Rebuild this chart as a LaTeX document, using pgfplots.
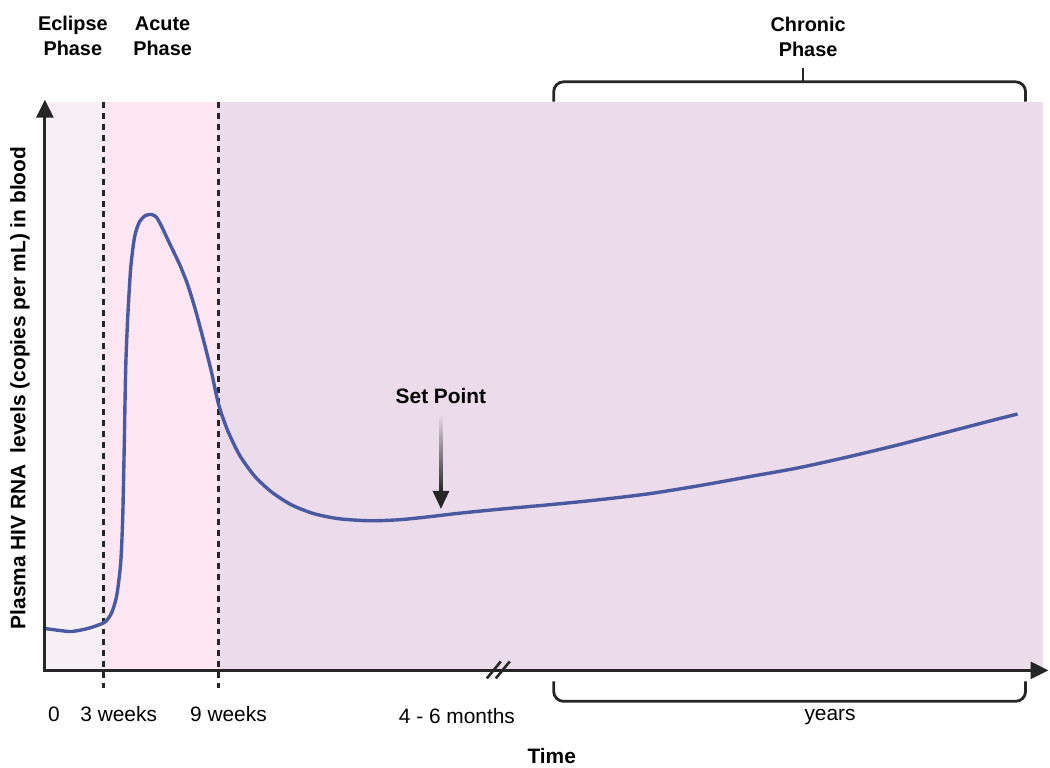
\documentclass[border=0pt]{standalone}
\usepackage{pgfplots}
\pgfplotsset{compat=1.18}
\usepackage{fontspec}
\setmainfont{Liberation Sans}
\usetikzlibrary{arrows.meta}
\definecolor{eclipse}{RGB}{246,240,245}
\definecolor{acute}{RGB}{251,230,242}
\definecolor{chronic}{RGB}{235,219,235}
\definecolor{curve}{RGB}{74,90,160}
\definecolor{ink}{RGB}{38,38,38}
\begin{document}
\begin{tikzpicture}
\begin{axis}[
  scale only axis, width=1000bp, height=570bp,
  xmin=45, xmax=1045, ymin=97, ymax=667,
  hide axis, clip=false,
]
\path (axis cs:0,0) rectangle (axis cs:1050,769);
% phase shading
\addplot[fill=eclipse, draw=none] coordinates {(45,97)(104,97)(104,667)(45,667)} -- cycle;
\addplot[fill=acute, draw=none] coordinates {(104,97)(219,97)(219,667)(104,667)} -- cycle;
\addplot[fill=chronic, draw=none] coordinates {(219,97)(1045,97)(1045,667)(219,667)} -- cycle;
% phase boundaries
\draw[ink, line width=3bp, dash pattern=on 6bp off 5bp] (axis cs:104,667) -- (axis cs:104,79);
\draw[ink, line width=3bp, dash pattern=on 6bp off 5bp] (axis cs:219,667) -- (axis cs:219,79);
% viral load curve
\addplot[curve, line width=3.4bp, smooth, tension=0.45, mark=none] coordinates {
(45,139)(60,137)(72,136)(88,139)(100,143)(106,146)(112,155)(117,172)(121,205)
(123,250)(124.5,320)(126,400)(128,450)(131,500)(135,532)(140,547)(146,553)
(152,554)(157,551)(162,542)(170,525)(180,504)(188,484)(196,458)(204,428)
(212,396)(219,364)(228,338)(240,313)(255,292)(272,276)(292,263)(315,254)
(340,249)(370,247)(400,248)(430,251)(460,254.5)(500,258.5)(550,263)(600,268)
(650,274)(700,282)(750,291)(800,300)(850,311)(900,323)(950,336)(1000,349)(1020,354)
};
% axes
\draw[ink, line width=3bp, -{Triangle[length=18bp,width=17bp]}] (axis cs:45,95.5) -- (axis cs:45,669);
\draw[ink, line width=3bp, -{Triangle[length=18bp,width=17bp]}] (axis cs:43.5,97) -- (axis cs:1051,97);
% axis break
\draw[ink, line width=2.6bp] (axis cs:488,89) -- (axis cs:502,106);
\draw[ink, line width=2.6bp] (axis cs:497,89) -- (axis cs:511,106);
% set point arrow
\shade[top color=chronic, bottom color=ink] (axis cs:440.2,354) rectangle (axis cs:443.8,276);
\fill[ink] (axis cs:433.5,277) -- (axis cs:450.5,277) -- (axis cs:442,259) -- cycle;
\node[font=\fontsize{21}{25}\selectfont\bfseries] at (axis cs:442,372) {Set Point};
% brackets
\draw[ink, line width=2.8bp, rounded corners=10bp] (axis cs:555,667) -- (axis cs:555,687) -- (axis cs:1028,687) -- (axis cs:1028,667);
\draw[ink, line width=2.8bp] (axis cs:805,687) -- (axis cs:805,701);
\draw[ink, line width=2.8bp, rounded corners=10bp] (axis cs:555,86) -- (axis cs:555,66) -- (axis cs:1028,66) -- (axis cs:1028,86);
% phase titles
\node[font=\fontsize{20}{25}\selectfont\bfseries, align=center] at (axis cs:73,733) {Eclipse\\Phase};
\node[font=\fontsize{20}{25}\selectfont\bfseries, align=center] at (axis cs:163,733) {Acute\\Phase};
\node[font=\fontsize{20}{25}\selectfont\bfseries, align=center] at (axis cs:810,732) {Chronic\\Phase};
% time labels
\node[font=\fontsize{21}{25}\selectfont] at (axis cs:54,53) {0};
\node[font=\fontsize{21}{25}\selectfont] at (axis cs:119,53) {3 weeks};
\node[font=\fontsize{21}{25}\selectfont] at (axis cs:229,53) {9 weeks};
\node[font=\fontsize{21}{25}\selectfont] at (axis cs:458,51) {4 - 6 months};
\node[font=\fontsize{21}{25}\selectfont] at (axis cs:832,50) {years};
\node[font=\fontsize{21}{25}\selectfont\bfseries] at (axis cs:553,11) {Time};
\node[font=\fontsize{21}{25}\selectfont\bfseries, rotate=90] at (axis cs:20,380) {Plasma HIV RNA\ \ levels (copies per mL) in blood};
\end{axis}
\end{tikzpicture}
\end{document}
